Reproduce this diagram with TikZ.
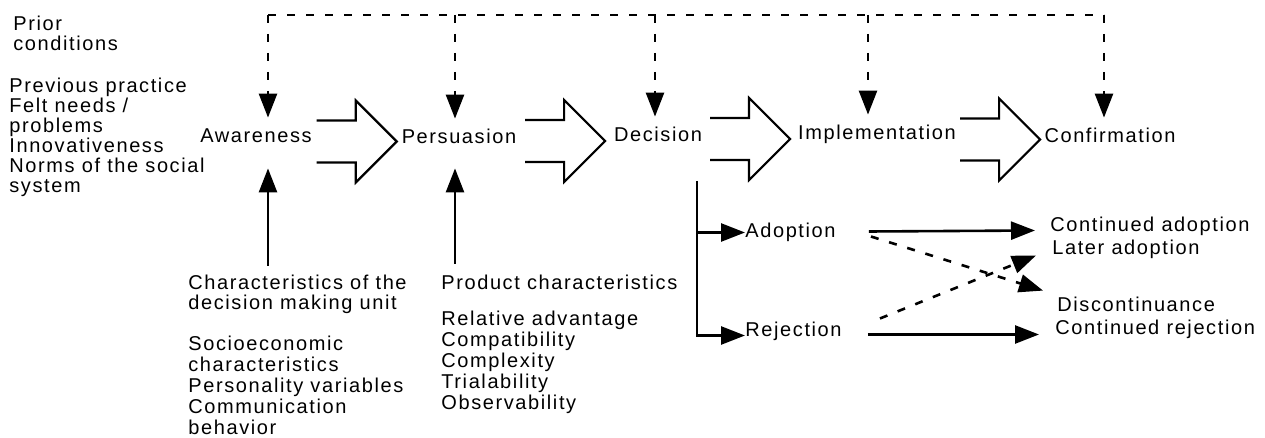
\documentclass[tikz,border=0pt]{standalone}
\usepackage{fontspec}
\setmainfont{Liberation Sans}[LetterSpace=8]
\usetikzlibrary{arrows.meta,calc}

\tikzset{
	stage/.style={inner sep=0pt, text height=7.5pt, text depth=2pt, anchor=base},
	txt/.style={inner sep=0pt, align=left, anchor=north west, font=\fontsize{10}{10}\selectfont},
	lst/.style={txt, font=\fontsize{10}{10.5}\selectfont},
	headarrow/.style={-{Triangle[length=12pt,width=9pt]}},
	solidarrow/.style={headarrow, line width=1.3pt},
	dashline/.style={line width=1.3pt, dash pattern=on 4pt off 5.5pt},
	dasharrow/.style={headarrow, dashline},
	hollowarrow/.pic={
		\draw[line width=1.1pt, line join=miter] (-40,-21) -- (-1,-21) -- (-1,-41) -- (40,0) -- (-1,41) -- (-1,21) -- (-40,21);
	}
}

\begin{document}
\begin{tikzpicture}[x=0.5pt, y=-0.5pt]
	\useasboundingbox (0,0) rectangle (1265,438);

	\node[txt] (prior) at (13,16) {Prior\\conditions};
	\node[txt] (prevlist) at (9,78) {Previous practice\\Felt needs /\\problems\\Innovativeness\\Norms of the social\\system};

	\node[stage] (aware) at (256,143) {Awareness};
	\node[stage] (persu) at (459,144) {Persuasion};
	\node[stage] (decis) at (658,142) {Decision};
	\node[stage] (implem) at (877,140) {Implementation};
	\node[stage] (confirm) at (1110,143) {Confirmation};

	\node[txt] (chardmu) at (188,275) {Characteristics of the\\decision making unit};
	\node[lst] (dmulist) at (188,336) {Socioeconomic\\characteristics\\Personality variables\\Communication\\behavior};
	\node[txt] (prodchar) at (441,275) {Product characteristics};
	\node[lst] (prodlist) at (441,311) {Relative advantage\\Compatibility\\Complexity\\Trialability\\Observability};

	\node[stage, anchor=base west] (adopt) at (745,238) {Adoption};
	\node[stage, anchor=base west] (reject) at (745,337) {Rejection};
	\node[stage, anchor=base west] (contadopt) at (1050,232) {Continued adoption};
	\node[stage, anchor=base west] (lateradopt) at (1052,255) {Later adoption};
	\node[stage, anchor=base west] (discont) at (1057,312) {Discontinuance};
	% last letter is cut off in the original
	\begin{scope}
		\clip (0,0) rectangle (1254,438);
		\node[stage, anchor=base west] (contreject) at (1055,335) {Continued rejection};
	\end{scope}

	% prior conditions feed every stage
	\coordinate (t1) at (268,15);
	\coordinate (t2) at (455,15);
	\coordinate (t3) at (655,15);
	\coordinate (t4) at (868,15);
	\coordinate (t5) at (1104,15);
	\draw[dashline] (t1) -- (t5);
	\foreach \c/\n in {t1/aware, t2/persu, t3/decis, t4/implem, t5/confirm}
		\draw[dasharrow, shorten >=5pt] (\c) -- (\c |- \n.north);

	\foreach \a/\b in {aware/persu, persu/decis, decis/implem, implem/confirm}
		\pic at ($(\a.base east)!.5!(\b.base west)+(0,-2)$) {hollowarrow};

	\draw[solidarrow, shorten <=4.5pt, shorten >=10.5pt] (t1 |- chardmu.north) -- (t1 |- aware.south);
	\draw[solidarrow, shorten <=5.5pt, shorten >=10pt] (t2 |- prodchar.north) -- (t2 |- persu.south);

	\coordinate (branch) at (697,181);
	\draw[solidarrow] (branch |- adopt.west) -- (adopt.west);
	\draw[solidarrow] (branch) |- ($(reject.west)+(0,4)$);

	\draw[solidarrow] ($(adopt.east)+(33,-1)$) -- ($(contadopt.west)+(-15,4)$);
	\draw[dasharrow] ($(adopt.east)+(35,4)$) -- ($(discont.north west)+(-14,-6)$);
	\draw[dasharrow] ($(reject.east)+(38,-13)$) -- ($(lateradopt.west)+(-16,6)$);
	\draw[solidarrow] ($(reject.east)+(26,3)$) -- ($(contreject.west)+(-16,5)$);
\end{tikzpicture}
\end{document}
